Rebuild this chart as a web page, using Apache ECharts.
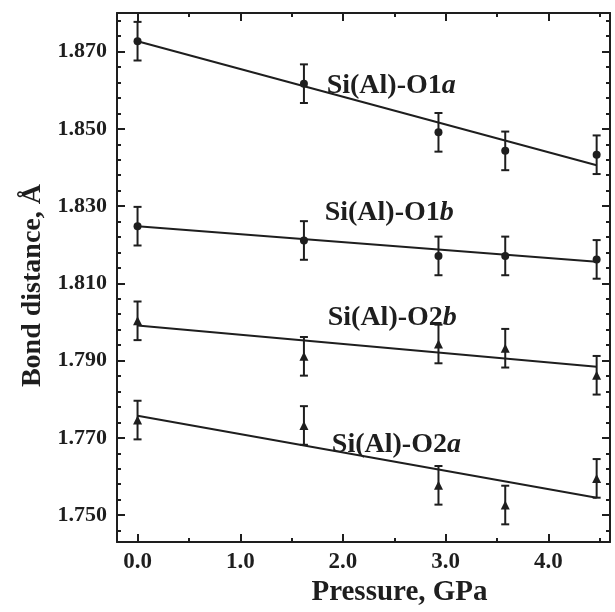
<!DOCTYPE html>
<html>
<head>
<meta charset="utf-8">
<script src="https://cdn.jsdelivr.net/npm/echarts@6/dist/echarts.min.js"></script>
<style>
html,body{margin:0;padding:0;background:#fff;}
#chart{width:615px;height:612px;}
</style>
</head>
<body>
<div id="chart"></div>
<script>
// ---- Data ----
const pressure = [0.0, 1.62, 2.93, 3.58, 4.47];

const o1a = [1.8727, 1.8617, 1.8491, 1.8443, 1.8433];
const o1b = [1.8248, 1.8211, 1.8171, 1.8171, 1.8162];
const o2b = [1.8003, 1.7911, 1.7943, 1.7932, 1.7862];
const o2a = [1.7746, 1.7732, 1.7577, 1.7526, 1.7595];

const o1aErr = [0.005, 0.005, 0.005, 0.005, 0.005];
const o1bErr = [0.005, 0.005, 0.005, 0.005, 0.005];
const o2bErr = [0.005, 0.005, 0.005, 0.005, 0.005];
const o2aErr = [0.005, 0.005, 0.005, 0.005, 0.005];

// linear fits (end points at first and last pressure)
const fitX = [0.0, 4.47];
const o1aFit = [1.8727, 1.8406];
const o1bFit = [1.8248, 1.8156];
const o2bFit = [1.7991, 1.7884];
const o2aFit = [1.7757, 1.7545];

// series labels and their anchor (data coords)
const seriesNames = ['Si(Al)-O1', 'Si(Al)-O1', 'Si(Al)-O2', 'Si(Al)-O2'];
const seriesSuffix = ['a', 'b', 'b', 'a'];
const labelX = [2.47, 2.45, 2.48, 2.52];
const labelY = [1.8612, 1.8282, 1.8012, 1.7681];

// ticks
const xMajor = [0, 1, 2, 3, 4];
const xMinor = [0.5, 1.5, 2.5, 3.5, 4.5];
const yMajor = [1.750, 1.770, 1.790, 1.810, 1.830, 1.850, 1.870];
const yMinor = [1.746, 1.754, 1.758, 1.762, 1.766, 1.774, 1.778, 1.782, 1.786,
                1.794, 1.798, 1.802, 1.806, 1.814, 1.818, 1.822, 1.826,
                1.834, 1.838, 1.842, 1.846, 1.854, 1.858, 1.862, 1.866,
                1.874, 1.878];

// ---- Chart ----
const FONT = '"Liberation Serif", "Times New Roman", serif';
const INK = '#1e1e1e';
const X_MIN = -0.2, X_MAX = 4.6, Y_MIN = 1.743, Y_MAX = 1.880;

function xAx(pos, vals, len, showLine, showLabel, extra) {
  return Object.assign({
    type: 'value', min: X_MIN, max: X_MAX, position: pos,
    axisLine: {show: showLine, onZero: false, lineStyle: {color: INK, width: 2}},
    axisTick: {show: true, inside: true, length: len, customValues: vals, lineStyle: {color: INK, width: 2}},
    axisLabel: showLabel ? {
      show: true, customValues: vals, margin: 8,
      formatter: v => v.toFixed(1),
      fontFamily: FONT, fontWeight: 'bold', fontSize: 23, color: INK
    } : {show: false},
    splitLine: {show: false}
  }, extra || {});
}
function yAx(pos, vals, len, showLine, showLabel, extra) {
  return Object.assign({
    type: 'value', min: Y_MIN, max: Y_MAX, position: pos,
    axisLine: {show: showLine, onZero: false, lineStyle: {color: INK, width: 2}},
    axisTick: {show: true, inside: true, length: len, customValues: vals, lineStyle: {color: INK, width: 2}},
    axisLabel: showLabel ? {
      show: true, customValues: vals, margin: 10,
      formatter: v => v.toFixed(3),
      fontFamily: FONT, fontWeight: 'bold', fontSize: 22, color: INK
    } : {show: false},
    splitLine: {show: false}
  }, extra || {});
}

const groups = [
  {vals: o1a, err: o1aErr, fit: o1aFit, sym: 'circle', size: 8},
  {vals: o1b, err: o1bErr, fit: o1bFit, sym: 'circle', size: 8},
  {vals: o2b, err: o2bErr, fit: o2bFit, sym: 'triangle', size: 9},
  {vals: o2a, err: o2aErr, fit: o2aFit, sym: 'triangle', size: 9}
];

const series = [];
groups.forEach((g, gi) => {
  // fit line
  series.push({
    type: 'line', xAxisIndex: 0, yAxisIndex: 0,
    data: fitX.map((x, i) => [x, g.fit[i]]),
    showSymbol: false, symbol: 'none',
    lineStyle: {color: INK, width: 2}, z: 2, silent: true
  });
  // error bars
  series.push({
    type: 'custom', xAxisIndex: 0, yAxisIndex: 0,
    data: pressure.map((x, i) => [x, g.vals[i] - g.err[i], g.vals[i] + g.err[i]]),
    renderItem: function (params, api) {
      const x = api.value(0);
      const lo = api.coord([x, api.value(1)]);
      const hi = api.coord([x, api.value(2)]);
      const hw = 4;
      const st = {stroke: INK, lineWidth: 2};
      return {
        type: 'group',
        children: [
          {type: 'line', shape: {x1: hi[0], y1: hi[1], x2: lo[0], y2: lo[1]}, style: st},
          {type: 'line', shape: {x1: hi[0] - hw, y1: hi[1], x2: hi[0] + hw, y2: hi[1]}, style: st},
          {type: 'line', shape: {x1: lo[0] - hw, y1: lo[1], x2: lo[0] + hw, y2: lo[1]}, style: st}
        ]
      };
    },
    z: 3, silent: true
  });
  // points
  series.push({
    type: 'scatter', xAxisIndex: 0, yAxisIndex: 0,
    data: pressure.map((x, i) => [x, g.vals[i]]),
    symbol: g.sym, symbolSize: g.size,
    itemStyle: {color: INK, opacity: 1}, z: 4, silent: true
  });
  // label
  series.push({
    type: 'scatter', xAxisIndex: 0, yAxisIndex: 0,
    data: [[labelX[gi], labelY[gi]]],
    symbolSize: 0, silent: true,
    itemStyle: {opacity: 1},
    label: {
      show: true, position: 'inside',
      formatter: '{n|' + seriesNames[gi] + '}{i|' + seriesSuffix[gi] + '}',
      rich: {
        n: {fontFamily: FONT, fontWeight: 'bold', fontSize: 28, color: INK},
        i: {fontFamily: FONT, fontWeight: 'bold', fontStyle: 'italic', fontSize: 28, color: INK}
      }
    }
  });
});

const option = {
  animation: false,
  backgroundColor: '#ffffff',
  grid: {left: 117, top: 13, right: 5, bottom: 55, containLabel: false},
  xAxis: [
    xAx('bottom', xMajor, 8, true, true, {
      name: 'Pressure, GPa', nameLocation: 'middle', nameGap: 27,
      nameTextStyle: {fontFamily: FONT, fontWeight: 'bold', fontSize: 29, color: INK,
                      verticalAlign: 'top', padding: [0, 0, 0, 72]}
    }),
    xAx('bottom', xMinor, 4, false, false),
    xAx('top', xMajor, 8, true, false),
    xAx('top', xMinor, 4, false, false)
  ],
  yAxis: [
    yAx('left', yMajor, 8, true, true, {
      name: 'Bond distance, Å', nameLocation: 'middle', nameGap: 70, nameRotate: 90,
      nameTextStyle: {fontFamily: FONT, fontWeight: 'bold', fontSize: 28, color: INK,
                      padding: [0, 16, 0, 0]}
    }),
    yAx('left', yMinor, 4, false, false),
    yAx('right', yMajor, 8, true, false),
    yAx('right', yMinor, 4, false, false)
  ],
  series: series
};

const chart = echarts.init(document.getElementById('chart'), null, {renderer: 'canvas'});
chart.setOption(option);
</script>
</body>
</html>
